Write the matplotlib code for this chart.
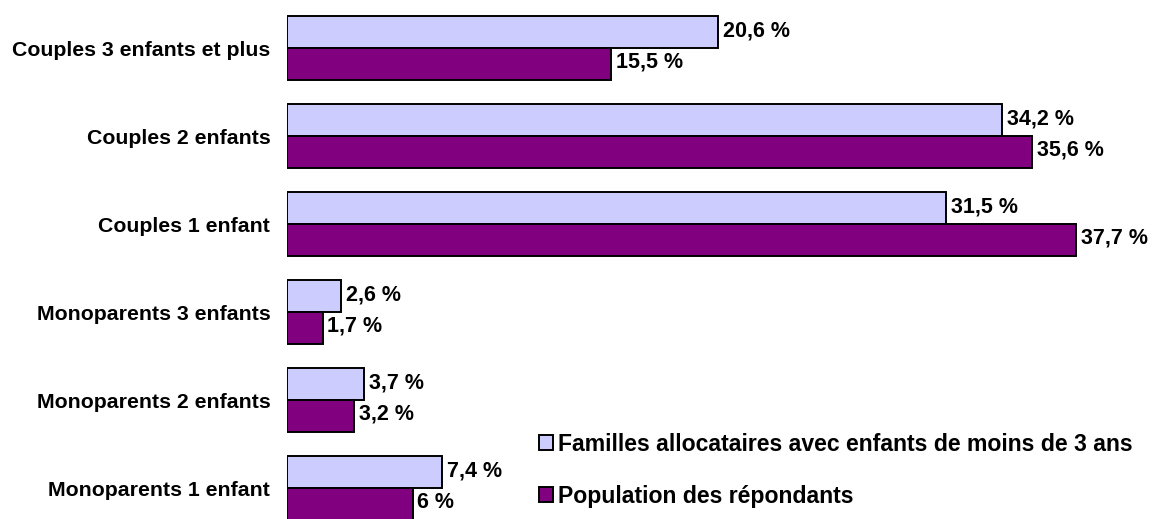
import numpy as np
import matplotlib.pyplot as plt

categories = ["Couples 3 enfants et plus", "Couples 2 enfants", "Couples 1 enfant",
              "Monoparents 3 enfants", "Monoparents 2 enfants", "Monoparents 1 enfant"]
allocataires = [20.6, 34.2, 31.5, 2.6, 3.7, 7.4]
repondants = [15.5, 35.6, 37.7, 1.7, 3.2, 6.0]
series_names = ["Familles allocataires avec enfants de moins de 3 ans",
                "Population des répondants"]

plt.rcParams['font.family'] = ['Liberation Sans', 'DejaVu Sans']
plt.rcParams['font.weight'] = 'bold'

fig = plt.figure(figsize=(11.55, 5.19), dpi=100)
ax = fig.add_axes([287 / 1155, 0, 1 - 287 / 1155, 1])

y = np.arange(len(categories))
h = 0.36
b1 = ax.barh(y - h / 2, allocataires, height=h, color="#CCCCFF", edgecolor="black",
             linewidth=1.4, label=series_names[0])
b2 = ax.barh(y + h / 2, repondants, height=h, color="#800080", edgecolor="black",
             linewidth=1.4, label=series_names[1])

def fmt(v):
    return f"{v:g}".replace(".", ",") + " %"

for bars, vals in [(b1, allocataires), (b2, repondants)]:
    for bar, v in zip(bars, vals):
        ax.annotate(fmt(v), (bar.get_width(), bar.get_y() + bar.get_height() / 2),
                    xytext=(3.5, 1), textcoords="offset points", va="center", ha="left",
                    fontsize=15.5, fontweight="bold")

ax.set_xlim(0, (1155 - 287) / 20.92)
ax.set_ylim((519 - 48) / 88, -48 / 88)
ax.set_yticks(y)
ax.set_yticklabels(categories, fontsize=15.3, fontweight="bold")
ax.tick_params(axis="y", length=0, pad=12)
ax.set_xticks([])
for s in ax.spines.values():
    s.set_visible(False)

ax.legend(loc="upper left", bbox_to_anchor=(518 / 1155, 1 - 412 / 519),
          bbox_transform=fig.transFigure, frameon=False,
          handlelength=0.6, handleheight=0.6, handletextpad=0.25, labelspacing=1.25,
          prop={'weight': 'bold', 'size': 16.6})

fig.savefig("out.png", dpi=100)
